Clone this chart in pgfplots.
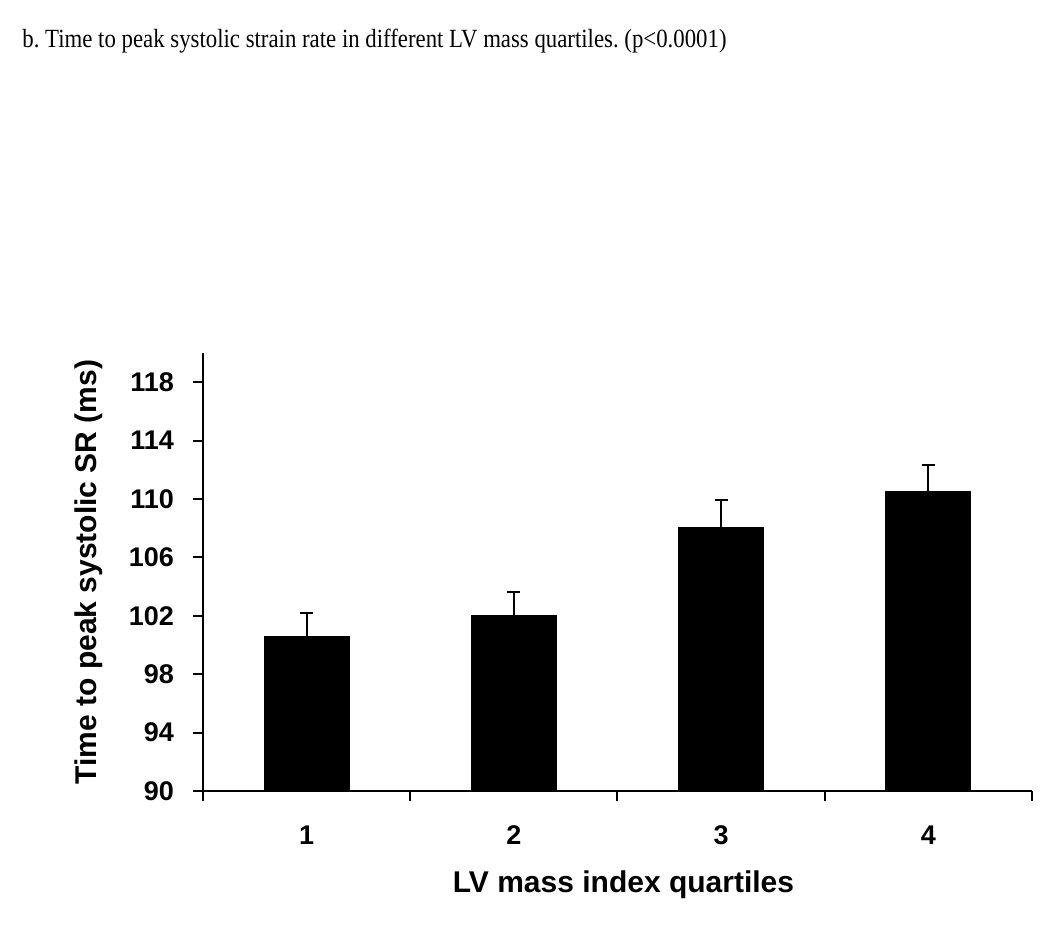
\documentclass[border=0pt]{standalone}
\usepackage{fontspec}
\setmainfont{Liberation Serif}
\setsansfont{Liberation Sans}
\usepackage{pgfplots}
\pgfplotsset{compat=1.18}
\frenchspacing
\begin{document}
\begin{tikzpicture}
\path[use as bounding box] (0,0) rectangle (525pt,466pt);
\node[anchor=base west, inner sep=0pt, font=\rmfamily\fontsize{11.4}{13}\selectfont] at (11pt,442pt)
  {\scalebox{1}[1.15]{b. Time to peak systolic strain rate in different LV mass quartiles. (p<0.0001)}};
\begin{axis}[
  at={(101.5pt,70.5pt)}, anchor=origin,
  scale only axis, width=414.5pt, height=219pt,
  xmin=0.5, xmax=4.5, ymin=90, ymax=120,
  axis x line*=bottom, axis y line*=left,
  axis line style={line width=1pt},
  every tick/.style={black, line width=1pt},
  ytick={90,94,...,118},
  xtick={1,2,3,4},
  minor xtick={0.5,1.5,2.5,3.5,4.5},
  major x tick style={draw=none},
  tick align=outside,
  major tick length=5pt, minor tick length=5pt,
  font=\sffamily\bfseries,
  tick label style={font=\sffamily\bfseries\fontsize{13.5}{15}\selectfont},
  /pgf/number format/assume math mode=true,
  xticklabel style={yshift=-9pt},
  yticklabel style={xshift=-6pt},
  xlabel={LV mass index quartiles},
  ylabel={Time to peak systolic SR (ms)},
  label style={font=\sffamily\bfseries\fontsize{15}{17}\selectfont},
  xlabel style={yshift=-6pt, xshift=3pt},
  ylabel style={yshift=6pt},
  ybar, bar width=42.5pt, bar shift=0pt,
  clip=false,
]
\addplot[fill=black, draw=black,
  error bars/.cd, y dir=plus, y explicit,
  error bar style={line width=1pt, black},
  error mark options={rotate=90, mark size=3.3pt, line width=1pt, black}]
  coordinates {
  (1,100.6) +- (0,1.6)
  (2,102.0) +- (0,1.6)
  (3,108.05) +- (0,1.85)
  (4,110.5) +- (0,1.85)
};
\end{axis}
\end{tikzpicture}
\end{document}
